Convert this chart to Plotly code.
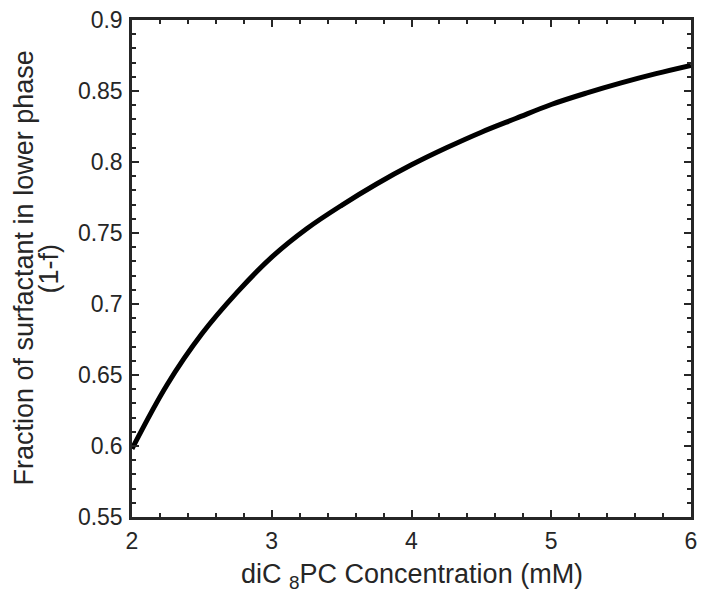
import plotly.graph_objects as go

# diC8PC concentration (mM) and fraction of surfactant in the lower phase (1-f)
conc_mM = [2.0, 2.25, 2.5, 2.75, 3.0, 3.25, 3.5, 3.75, 4.0, 4.25, 4.5,
           4.75, 5.0, 5.25, 5.5, 5.75, 6.0]
frac_lower = [0.598, 0.643, 0.679, 0.708, 0.733, 0.753, 0.7695, 0.7845, 0.798,
              0.810, 0.821, 0.8308, 0.8405, 0.8485, 0.8557, 0.8622, 0.868]

x_ticks = [2, 3, 4, 5, 6]
y_ticks = [0.55, 0.6, 0.65, 0.7, 0.75, 0.8, 0.85, 0.9]
y_ticklabels = ["0.55", "0.6", "0.65", "0.7", "0.75", "0.8", "0.85", "0.9"]

x_title = "diC <sub>8</sub>PC Concentration (mM)"
y_title_lines = ["Fraction of surfactant in lower phase", "(1-f)"]

axis_color = "#262626"
font_family = "Liberation Sans, Arial, Helvetica, sans-serif"
tick_font = dict(family=font_family, size=23, color=axis_color)
title_font = dict(family=font_family, size=27, color=axis_color)

fig = go.Figure()
fig.add_trace(go.Scatter(
    x=conc_mM, y=frac_lower, mode="lines",
    line=dict(color="black", width=5, shape="spline", smoothing=1.0),
    showlegend=False, hoverinfo="x+y",
))

common_axis = dict(
    showline=True, linecolor=axis_color, linewidth=2.5, mirror="allticks",
    ticks="inside", ticklen=7, tickwidth=2, tickcolor=axis_color,
    showgrid=False, zeroline=False, tickfont=tick_font,
)

fig.update_layout(
    width=704, height=594,
    margin=dict(l=132, r=7, t=20, b=77),
    paper_bgcolor="white", plot_bgcolor="white",
    font=dict(family=font_family, color=axis_color),
    xaxis=dict(
        range=[2, 6], tickvals=x_ticks, ticktext=[str(t) for t in x_ticks],
        minor=dict(ticks="inside", ticklen=4, tickwidth=2, tickcolor=axis_color, dtick=0.2),
        ticklabelstandoff=2,
        **common_axis,
    ),
    yaxis=dict(
        range=[0.55, 0.9], tickvals=y_ticks, ticktext=y_ticklabels,
        minor=dict(ticks="inside", ticklen=4, tickwidth=2, tickcolor=axis_color, dtick=0.01),
        ticklabelstandoff=2,
        **common_axis,
    ),
)

# Axis titles placed as annotations for tight line spacing
fig.add_annotation(
    text=x_title, xref="paper", yref="paper", x=0.5, y=0,
    xanchor="center", yanchor="middle", yshift=-59,
    showarrow=False, font=title_font,
)
fig.add_annotation(
    text=y_title_lines[0], xref="paper", yref="paper", x=0, y=0.5,
    xanchor="center", yanchor="middle", xshift=-109, textangle=-90,
    showarrow=False, font=title_font,
)
fig.add_annotation(
    text=y_title_lines[1], xref="paper", yref="paper", x=0, y=0.5,
    xanchor="center", yanchor="middle", xshift=-84, textangle=-90,
    showarrow=False, font=title_font,
)

fig.write_html("out.html")
